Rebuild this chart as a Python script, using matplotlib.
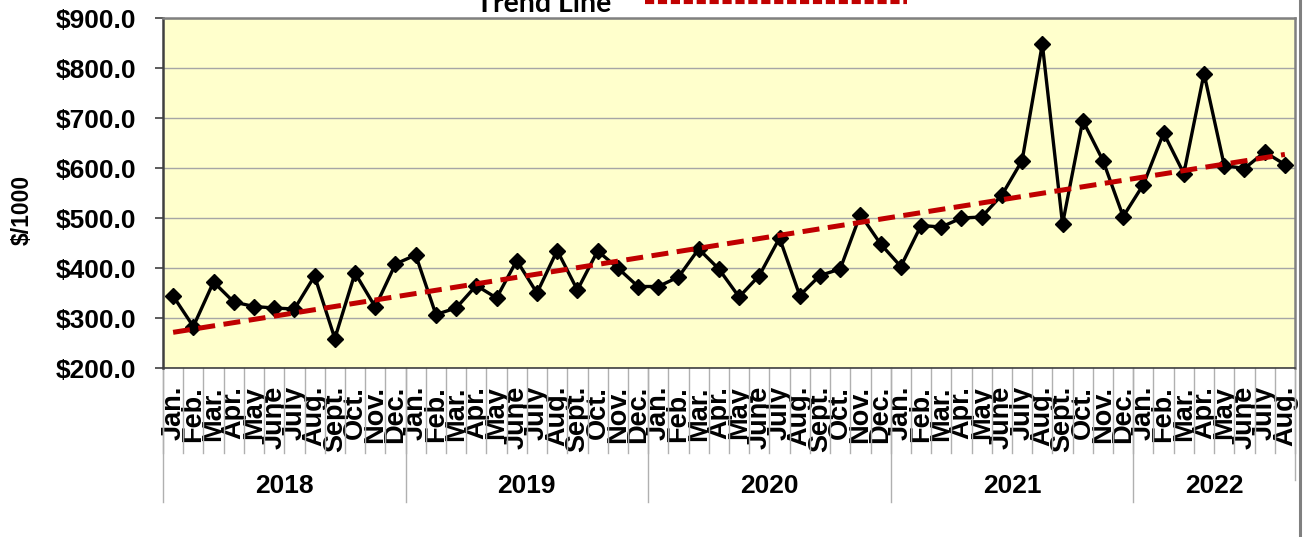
import numpy as np
import matplotlib
matplotlib.use("Agg")
import matplotlib.pyplot as plt
from matplotlib.lines import Line2D
import matplotlib.transforms as mtransforms

# ---------- data ----------
months = ["Jan.", "Feb.", "Mar.", "Apr.", "May", "June",
          "July", "Aug.", "Sept.", "Oct.", "Nov.", "Dec."]
years = ["2018", "2019", "2020", "2021", "2022"]
months_per_year = [12, 12, 12, 12, 8]

prices_2018 = [344, 283, 372, 332, 323, 320, 318, 384, 259, 390, 322, 408]
prices_2019 = [426, 307, 320, 365, 340, 415, 350, 435, 356, 434, 400, 363]
prices_2020 = [363, 382, 438, 398, 342, 385, 460, 345, 385, 398, 507, 448]
prices_2021 = [403, 485, 482, 500, 502, 546, 615, 848, 488, 695, 615, 503]
prices_2022 = [567, 670, 589, 789, 605, 599, 632, 607]

prices = prices_2018 + prices_2019 + prices_2020 + prices_2021 + prices_2022
labels = []
for n in months_per_year:
    labels += months[:n]
x = np.arange(len(prices))

# linear trend (least squares, like the spreadsheet trendline)
slope, intercept = np.polyfit(x, prices, 1)
trend = slope * x + intercept

# ---------- figure ----------
fig = plt.figure(figsize=(13.07, 5.37), dpi=100)
ax = fig.add_axes([163 / 1307, 169 / 537, 1132 / 1307, 350 / 537])
ax.set_facecolor("#FFFFCC")

ax.plot(x, prices, color="black", lw=2.4, marker="D", markersize=8,
        markerfacecolor="black", markeredgecolor="black", zorder=3)
ax.plot(x, trend, color="#C00000", lw=3.6, linestyle=(0, (3.4, 1.7)), zorder=4)

ax.set_xlim(-0.5, len(prices) - 0.5)
ax.set_ylim(200, 900)
yt = np.arange(200, 901, 100)
ax.set_yticks(yt)
ax.set_yticklabels([f"${v:.1f}" for v in yt], fontsize=19, fontweight="bold",
                   family="Liberation Sans")
ax.yaxis.grid(True, color="#A6A6A6", lw=1)
ax.set_axisbelow(True)
ax.tick_params(axis="y", length=6, width=1.2, color="#404040", pad=13)

ax.set_xticks(x)
ax.set_xticklabels(labels, rotation=90, fontsize=19.5, fontweight="bold",
                   family="Liberation Sans")
ax.tick_params(axis="x", length=0, pad=13)

# y axis title
fig.text(22 / 1307, 1 - 210 / 537, "$/1000", rotation=90, ha="center", va="center",
         fontsize=16.5, fontweight="bold", family="Liberation Sans")

for side in ["top", "right"]:
    ax.spines[side].set_color("#808080")
    ax.spines[side].set_linewidth(1.8)
ax.spines["left"].set_color("#404040")
ax.spines["left"].set_linewidth(1.8)
ax.spines["bottom"].set_color("#404040")
ax.spines["bottom"].set_linewidth(1.2)

# category separators under the axis
trans = mtransforms.blended_transform_factory(ax.transData, ax.transAxes)
axis_h = 350.0
for i in range(len(prices) + 1):
    ax.add_line(Line2D([i - 0.5, i - 0.5], [0, -85 / axis_h], transform=trans,
                       color="#B0B0B0", lw=1, clip_on=False))
start = 0
for yr, n in zip(years, months_per_year):
    ax.add_line(Line2D([start - 0.5, start - 0.5], [0, -134 / axis_h], transform=trans,
                       color="#B0B0B0", lw=1, clip_on=False))
    ax.text(start + n / 2 - 0.5, -118 / axis_h, yr, transform=trans, ha="center",
            va="center", fontsize=19, fontweight="bold", family="Liberation Sans")
    start += n
ax.add_line(Line2D([start - 0.5, start - 0.5], [0, -112 / axis_h], transform=trans,
                   color="#B0B0B0", lw=1, clip_on=False))

# legend remnant at top (cut off)
fig.text(476 / 1307, 1 - 11.5 / 537, "Trend Line", fontsize=20.5, fontweight="bold",
         family="Lato", ha="left", va="baseline")
fig.add_artist(Line2D([645 / 1307, 907 / 1307], [1 - 2 / 537, 1 - 2 / 537],
                      transform=fig.transFigure, color="#C00000", lw=3,
                      linestyle=(0, (2.2, 0.9))))

# outer chart frame edge at right
fig.add_artist(Line2D([1300 / 1307, 1300 / 1307], [0, 1], transform=fig.transFigure,
                      color="#808080", lw=2.2))

fig.savefig("out.png", dpi=100)
